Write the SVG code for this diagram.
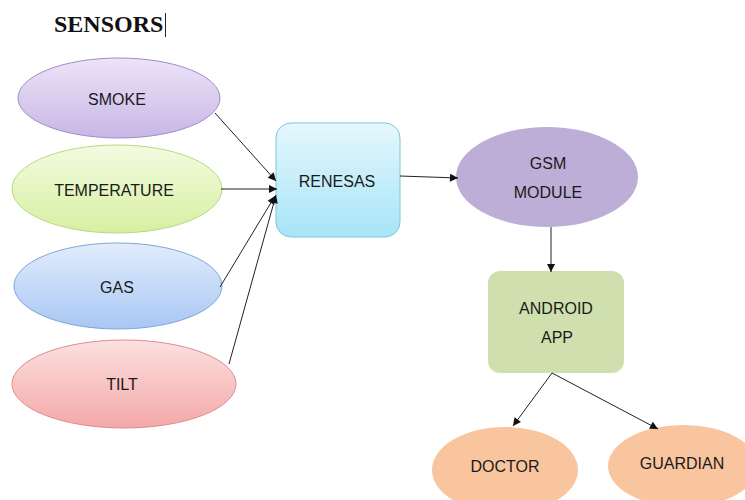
<svg xmlns="http://www.w3.org/2000/svg" width="745" height="500" viewBox="0 0 745 500">
<style>
.lbl{font-family:"Liberation Sans",Arial,sans-serif;font-size:16px;fill:#1a1a1a;text-anchor:middle}
.title{font-family:"Liberation Serif","Times New Roman",serif;font-size:24px;font-weight:bold;fill:#111}
.conn{stroke:#222;stroke-width:1;fill:none;marker-end:url(#ah)}
</style>
<defs>
<marker id="ah" viewBox="0 0 10 10" refX="10" refY="5" markerWidth="9" markerHeight="8" markerUnits="userSpaceOnUse" orient="auto">
<path d="M0,0 L10,5 L0,10 z" fill="#111"/>
</marker>
<linearGradient id="gSmoke" x1="0" y1="0" x2="0" y2="1"><stop offset="0" stop-color="#ece4f7"/><stop offset="1" stop-color="#c8b6e6"/></linearGradient>
<linearGradient id="gTemp" x1="0" y1="0" x2="0" y2="1"><stop offset="0" stop-color="#f3fbe0"/><stop offset="1" stop-color="#d6f0a2"/></linearGradient>
<linearGradient id="gGas" x1="0" y1="0" x2="0" y2="1"><stop offset="0" stop-color="#e2edfc"/><stop offset="1" stop-color="#a8c7f3"/></linearGradient>
<linearGradient id="gTilt" x1="0" y1="0" x2="0" y2="1"><stop offset="0" stop-color="#fce0e0"/><stop offset="1" stop-color="#f4a8a8"/></linearGradient>
<linearGradient id="gRen" x1="0" y1="0" x2="0" y2="1"><stop offset="0" stop-color="#e6f7fd"/><stop offset="1" stop-color="#a6e5f7"/></linearGradient>
</defs>
<text class="title" x="54" y="32">SENSORS</text>
<line x1="165.5" y1="13" x2="165.5" y2="37" stroke="#222" stroke-width="1"/>
<g id="smoke"><ellipse cx="119" cy="98" rx="101" ry="40" fill="url(#gSmoke)" stroke="#a08ccc" stroke-width="1"/><text class="lbl" x="117" y="105">SMOKE</text></g>
<g id="temperature"><ellipse cx="117" cy="189" rx="105" ry="44" fill="url(#gTemp)" stroke="#b9d980" stroke-width="1"/><text class="lbl" x="114" y="196">TEMPERATURE</text></g>
<g id="gas"><ellipse cx="118" cy="286" rx="104" ry="43" fill="url(#gGas)" stroke="#80a6da" stroke-width="1"/><text class="lbl" x="117" y="293">GAS</text></g>
<g id="tilt"><ellipse cx="124" cy="384" rx="112" ry="44" fill="url(#gTilt)" stroke="#e08c8c" stroke-width="1"/><text class="lbl" x="122" y="390">TILT</text></g>
<g id="renesas"><rect x="276" y="123" width="124" height="114" rx="15" fill="url(#gRen)" stroke="#80c4d8" stroke-width="1"/><text class="lbl" x="337" y="187">RENESAS</text></g>
<g id="gsm"><ellipse cx="547" cy="177" rx="91" ry="50" fill="#bcaed6"/><text class="lbl" x="548" y="169">GSM</text><text class="lbl" x="548" y="198">MODULE</text></g>
<g id="android"><rect x="488" y="271" width="136" height="102" rx="12" fill="#cfdfae"/><text class="lbl" x="556" y="314">ANDROID</text><text class="lbl" x="557" y="343">APP</text></g>
<g id="doctor"><ellipse cx="505" cy="470" rx="73" ry="43" fill="#f9c59f"/><text class="lbl" x="505" y="472">DOCTOR</text></g>
<g id="guardian"><ellipse cx="683" cy="466" rx="75" ry="41" fill="#f9c59f"/><text class="lbl" x="682" y="469">GUARDIAN</text></g>
<g id="connectors">
<line class="conn" x1="215" y1="113" x2="276" y2="181"/>
<line class="conn" x1="221" y1="189" x2="277" y2="189"/>
<line class="conn" x1="220" y1="287" x2="275" y2="196"/>
<line class="conn" x1="229" y1="364" x2="276" y2="195"/>
<line class="conn" x1="400" y1="176" x2="458" y2="178"/>
<line class="conn" x1="551" y1="227" x2="551" y2="272"/>
<line class="conn" x1="552" y1="373" x2="513" y2="426"/>
<line class="conn" x1="552" y1="373" x2="658" y2="429"/>
</g>
</svg>
